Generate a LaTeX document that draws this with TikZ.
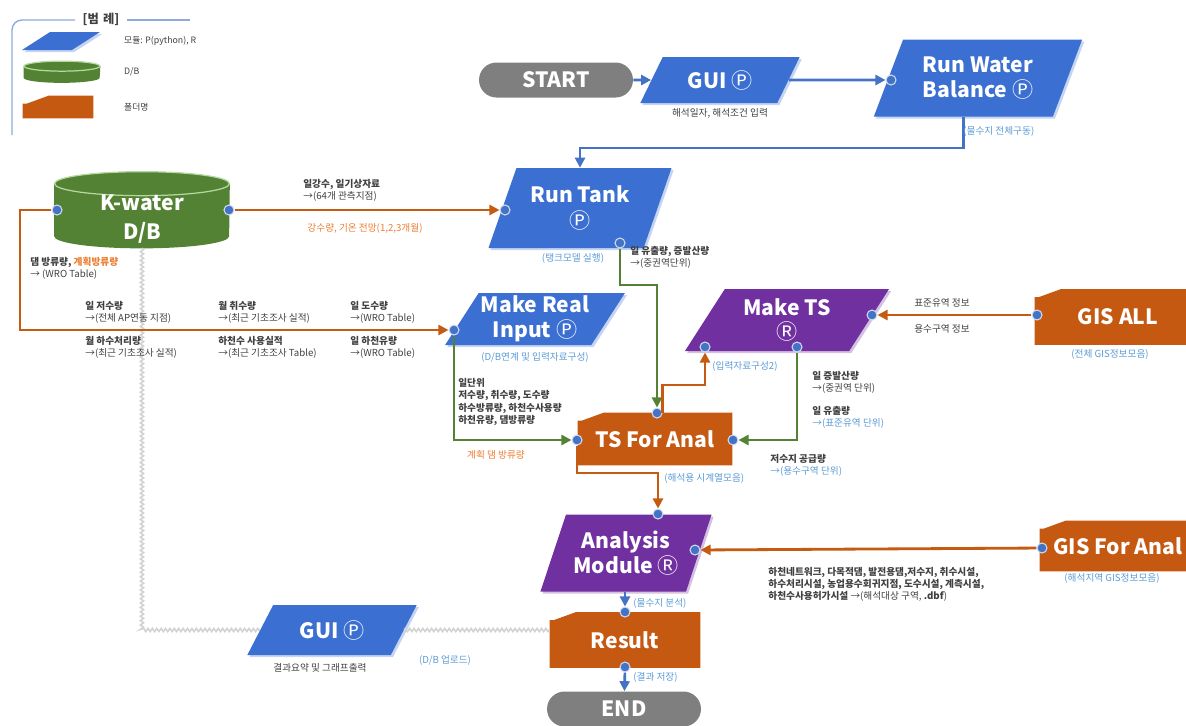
\documentclass[tikz,border=0pt]{standalone}
\usepackage{fontspec}
\setmainfont{Noto Sans CJK KR}
\usetikzlibrary{shapes.geometric,arrows.meta,calc,backgrounds,decorations.pathmorphing,shadows}
\definecolor{mblue}{HTML}{3B6FD1}
\definecolor{mpurple}{HTML}{7030A0}
\definecolor{forange}{HTML}{C65911}
\definecolor{dbgreen}{HTML}{548235}
\definecolor{dbrim}{HTML}{B5D99C}
\definecolor{pillgray}{HTML}{7F7F7F}
\definecolor{portblue}{HTML}{4472C4}
\definecolor{lineblue}{HTML}{4472C4}
\definecolor{lineorange}{HTML}{C55A11}
\definecolor{linegreen}{HTML}{548235}
\definecolor{notblue}{HTML}{5B9BD5}
\definecolor{notorange}{HTML}{ED7D31}
\definecolor{txtgray}{HTML}{404040}
\definecolor{legframe}{HTML}{8FAADC}
\newcommand\boxfont{\fontsize{12}{14}\selectfont\bfseries}
\newcommand\lblfont{\fontsize{5.5}{6.9}\selectfont}
\newcommand\legfont{\fontsize{5}{6}\selectfont}
\newcommand\modP{{\mdseries Ⓟ}}
\newcommand\modR{{\mdseries Ⓡ}}

\begin{document}
\begin{tikzpicture}[x=0.02cm, y=-0.02cm,
  module/.style={trapezium, trapezium left angle=#1, trapezium right angle=180-#1,
    trapezium stretches, inner sep=1pt, text=white, font=\boxfont, align=center},
  module/.default=60,
  pmod/.style={module=#1, fill=mblue, drop shadow={fill=mblue!30, opacity=1, shadow xshift=1.2pt, shadow yshift=-1.2pt}},
  pmod/.default=60,
  rmod/.style={module=#1, fill=mpurple, drop shadow={fill=mpurple!30, opacity=1, shadow xshift=1.2pt, shadow yshift=-1.2pt}},
  rmod/.default=60,
  folder/.style={rectangle, inner sep=0pt, text=white, font=\boxfont},
  pill/.style={rectangle, rounded corners=0.35cm, fill=pillgray, text=white, font=\boxfont,
    minimum width=3.08cm, minimum height=0.7cm},
  port/.style={circle, fill=portblue, draw=portblue!25, line width=0.6pt, inner sep=0pt, minimum size=0.2cm},
  barrow/.style={draw=lineblue, line width=1.5pt, -{Triangle[length=2mm,width=2mm]}},
  oarrow/.style={draw=lineorange, line width=1.6pt, -{Triangle[length=2mm,width=2mm]}},
  garrow/.style={draw=linegreen, line width=1.6pt, -{Triangle[length=2mm,width=2mm]}},
  dbline/.style={draw=gray!35, line width=0.9pt, decorate, decoration={zigzag, segment length=2.5pt, amplitude=0.9pt}},
  lbl/.style={font=\lblfont, text=txtgray, align=left, inner sep=0pt},
  note/.style={font=\lblfont, text=notblue, inner sep=0pt},
  onote/.style={font=\lblfont, text=notorange, inner sep=0pt}]
\useasboundingbox (0,0) rectangle (1186,725);

% legend
\draw[legframe, line width=0.8pt, rounded corners=0.2cm] (75,20) -- (12,20) -- (12,135);
\draw[legframe, line width=0.8pt] (127,20) -- (190,20);
\node[font=\fontsize{7}{8}\selectfont\bfseries, text=txtgray] (legtitle) at (101,19) {[범\,\,례]};
\node[pmod=38, minimum width=1.56cm, minimum height=0.36cm] (lgmod) at (61,41) {};
\node[rectangle, minimum width=1.52cm, minimum height=0.42cm] (lgdb) at (62,72) {};
\node[folder, minimum width=1.4cm, minimum height=0.44cm] (lgfold) at (58,107) {};
\node[font=\legfont, text=txtgray, anchor=west] at (118,41) {모듈: P(python), R};
\node[font=\legfont, text=txtgray, anchor=west] at (118,72) {D/B};
\node[font=\legfont, text=txtgray, anchor=west] at (118,107) {폴더명};

% blocks
\node[pill] (start) at (556,80) {START};
\node[pmod, minimum width=3.2cm, minimum height=0.92cm] (gui1) at (720,80) {GUI \modP};
\node[pmod=64, minimum width=4.2cm, minimum height=1.54cm] (rwb) at (978,78) {Run Water\\Balance \modP};
\node[rectangle, minimum width=3.5cm, minimum height=1.52cm] (kw) at (142,210) {};
\node[text=white, font=\boxfont, align=center] (kwtext) at (142,219) {K-water\\[3pt]D/B};
\node[pmod=65, minimum width=3.68cm, minimum height=1.6cm] (tank) at (580,208) {Run Tank\\[1pt]\modP};
\node[pmod=56, minimum width=3.6cm, minimum height=1.04cm] (mri) at (535,319) {Make Real\\Input \modP};
\node[rmod=58, minimum width=4.1cm, minimum height=1.24cm] (mts) at (787,320) {Make TS\\\modR};
\node[folder, minimum width=3.32cm, minimum height=1.1cm] (gisall) at (1118,317) {GIS ALL};
\node[folder, minimum width=3.08cm, minimum height=1.04cm] (tsa) at (655,439) {TS For Anal};
\node[rmod=64, minimum width=3.44cm, minimum height=1.54cm] (ana) at (626,553) {Analysis\\Module \modR};
\node[folder, minimum width=3.12cm, minimum height=1cm] (gisanal) at (1118,546) {GIS For Anal};
\node[folder, minimum width=3cm, minimum height=1.1cm] (res) at (625,640) {Result};
\node[pmod=57, minimum width=3.4cm, minimum height=1cm] (gui2) at (332,630) {GUI \modP};
\node[pill] (endn) at (624,709) {END};

\begin{scope}[on background layer]
\foreach \n in {gisall,tsa,gisanal,res,lgfold}
  \fill[forange] (\n.south west) -- ($(\n.north west)+(0,8)$) -- ($(\n.north west)+(4,8)$)
    -- ($(\n.north west)+(26,0)$) -- (\n.north east) -- (\n.south east) -- cycle;
\foreach \n/\rx/\ry in {kw/1.75/0.24, lgdb/0.76/0.1} {
  \fill[dbgreen] ($(\n.north west)+(0,-\ry cm)$) -- ($(\n.south west)+(0,\ry cm)$)
    arc[start angle=180, end angle=360, x radius=\rx cm, y radius=\ry cm]
    -- ($(\n.north east)+(0,-\ry cm)$) -- cycle;
  \draw[dbrim, fill=dbgreen, line width=0.7pt] ($(\n.north)+(0,-\ry cm)$) ellipse[x radius=\rx cm, y radius=\ry cm];
}
\end{scope}

% ports
\node[port] (rwbL) at (891,80) {};
\node[port] (kwL) at (57,210) {};
\node[port] (kwR) at (229,210) {};
\node[port] (tankL) at (505,210) {};
\node[port] (tankB) at (620,243) {};
\node[port] (mriL) at (454,330) {};
\node[port] (mtsR) at (872,315) {};
\node[port] (mtsL) at (705,347) {};
\node[port] (mtsB) at (797,347) {};
\node[port] (gisallP) at (1037,315) {};
\node[port] (tsaL) at (577,440) {};
\node[port] (tsaT) at (657,413) {};
\node[port] (tsaR) at (733,440) {};
\node[port] (anaT) at (658,514) {};
\node[port] (anaR) at (695,550) {};
\node[port] (gisanalP) at (1042,548) {};
\node[port] (resT) at (625,612) {};
\node[port] (resB) at (625,667) {};

% flow
\draw[dbline] (kw.south) -- (kw.south |- gui2) -- (gui2.left side);
\draw[dbline] (gui2.right side) -- (gui2.right side -| res.west);
\draw[barrow] (start) -- (gui1);
\draw[barrow] (gui1) -- (rwbL);
\draw[barrow] (rwb.bottom side) -- ++(0,31) -| (tank);
\draw[oarrow] (kwR) -- (tankL);
\draw[oarrow] (kwL) -- ++(-37,0) |- (mriL);
\draw[garrow] (tankB) -- ++(0,42) -| (tsaT);
\draw[garrow] (mriL) |- (tsaL);
\draw[oarrow] (tsaT.east) -- ++(0,-28) -| (mtsL);
\draw[garrow] (mtsB) |- (tsaR);
\draw[oarrow] (gisallP) -- (mtsR);
\draw[oarrow] (tsaL) -- ++(0,33) -| (anaT);
\draw[oarrow] (gisanalP) -- (anaR);
\draw[barrow] (ana.south -| resT) -- (resT);
\draw[barrow] (resB) -- (endn);

% labels
\node[lbl] at (720,113) {해석일자, 해석조건 입력};
\node[note, anchor=west] at (963,131) {(물수지 전체구동)};
\node[lbl, anchor=west] at (303,190) {\textbf{일강수, 일기상자료}\\→(64개 관측지점)};
\node[onote] at (365,228) {강수량, 기온 전망(1,2,3개월)};
\node[note] at (573,258) {(탱크모델 실행)};
\node[lbl, anchor=west] at (630,257) {\textbf{일 유출량, 증발산량}\\→(중권역단위)};
\node[lbl, anchor=west] at (30,268) {\textbf{댐 방류량, {\color{notorange}계획방류량}}\\→ (WRO Table)};
\node[lbl, anchor=west] at (85,312) {\textbf{일 저수량}\\→(전체 AP연동 지점)};
\node[lbl, anchor=west] at (218,312) {\textbf{월 취수량}\\→(최근 기초조사 실적)};
\node[lbl, anchor=west] at (350,312) {\textbf{일 도수량}\\→(WRO Table)};
\node[lbl, anchor=west] at (85,347) {\textbf{월 하수처리량}\\→(최근 기초조사 실적)};
\node[lbl, anchor=west] at (218,347) {\textbf{하천수 사용실적}\\→(최근 기초조사 Table)};
\node[lbl, anchor=west] at (350,347) {\textbf{일 하천유량}\\→(WRO Table)};
\node[note] at (535,357) {(D/B연계 및 입력자료구성)};
\node[note, anchor=west] at (712,366) {(입력자료구성2)};
\node[lbl] at (942,303) {표준유역 정보};
\node[lbl] at (942,329) {용수구역 정보};
\node[note] at (1110,354) {(전체 GIS정보모음)};
\node[lbl, anchor=west, font=\lblfont\bfseries] at (458,402) {일단위\\저수량, 취수량, 도수량\\하수방류량, 하천수사용량\\하천유량, 댐방류량};
\node[onote] at (496,455) {계획 댐 방류량};
\node[lbl, anchor=west] at (812,382) {\textbf{일 증발산량}\\→(중권역 단위)};
\node[lbl, anchor=west] at (812,417) {\textbf{일 유출량}\\{\color{notblue}→(표준유역 단위)}};
\node[lbl, anchor=west] at (770,465) {\textbf{저수지 공급량}\\{\color{notblue}→(용수구역 단위)}};
\node[note, anchor=west] at (664,478) {(해석용 시계열모음)};
\node[note, anchor=west] at (633,603) {(물수지 분석)};
\node[lbl, anchor=west] at (768,584) {\textbf{하천네트워크, 다목적댐, 발전용댐,저수지, 취수시설,}\\\textbf{하수처리시설, 농업용수회귀지점, 도수시설, 계측시설,}\\\textbf{하천수사용허가시설} →(해석대상 구역, \textbf{.dbf})};
\node[note] at (1112,578) {(해석지역 GIS정보모음)};
\node[note, anchor=west] at (633,677) {(결과 저장)};
\node[lbl] at (320,668) {결과요약 및 그래프출력};
\node[note] at (445,660) {(D/B 업로드)};
\end{tikzpicture}
\end{document}
